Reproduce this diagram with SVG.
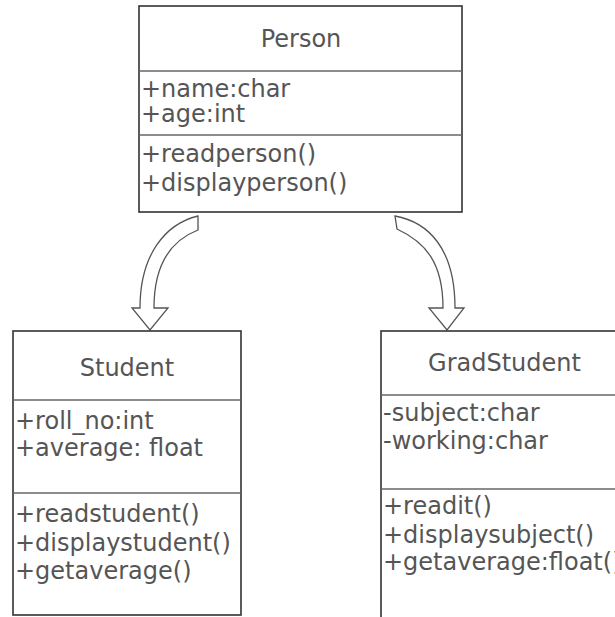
<svg xmlns="http://www.w3.org/2000/svg" width="615" height="617" viewBox="0 0 615 617">
<style>
.box{fill:#fff;stroke:#333;stroke-width:1.6}
.sep{stroke:#666;stroke-width:1.4}
.t{font-family:"DejaVu Sans",Verdana,sans-serif;font-size:24px;fill:#555}
.c{text-anchor:middle}
.arr{fill:#fff;stroke:#555;stroke-width:1.3;stroke-linejoin:miter}
</style>
<rect width="615" height="617" fill="#fff"/>
<g id="connectors">
<path class="arr" d="M198,216 C165,224 140,255 140,308 L132,308 L150,330 L168,308 L154,308 C154,262 172,240 198,230 Z"/>
<path class="arr" d="M395,216 C428,222 455,248 455,308 L464,308 L447,330 L429,308 L443,308 C443,262 425,242 397,229 Z"/>
</g>
<g id="person">
<rect class="box" x="139" y="6" width="323" height="206"/>
<line class="sep" x1="139" y1="71" x2="462" y2="71"/>
<line class="sep" x1="139" y1="135" x2="462" y2="135"/>
<text class="t c" x="301" y="47">Person</text>
<text class="t" x="141" y="97">+name:char</text>
<text class="t" x="141" y="122">+age:int</text>
<text class="t" x="141" y="162">+readperson()</text>
<text class="t" x="141" y="191">+displayperson()</text>
</g>
<g id="student">
<rect class="box" x="13" y="331" width="228" height="284"/>
<line class="sep" x1="13" y1="400" x2="241" y2="400"/>
<line class="sep" x1="13" y1="493" x2="241" y2="493"/>
<text class="t c" x="127" y="376">Student</text>
<text class="t" x="15" y="429">+roll_no:int</text>
<text class="t" x="15" y="456">+average: float</text>
<text class="t" x="15" y="522">+readstudent()</text>
<text class="t" x="15" y="551">+displaystudent()</text>
<text class="t" x="15" y="579">+getaverage()</text>
</g>
<g id="gradstudent">
<rect class="box" x="381" y="331" width="247" height="300"/>
<line class="sep" x1="381" y1="395" x2="628" y2="395"/>
<line class="sep" x1="381" y1="489" x2="628" y2="489"/>
<text class="t c" x="504.5" y="371">GradStudent</text>
<text class="t" x="383" y="421">-subject:char</text>
<text class="t" x="383" y="449">-working:char</text>
<text class="t" x="383" y="514">+readit()</text>
<text class="t" x="383" y="543">+displaysubject()</text>
<text class="t" x="383" y="570">+getaverage:float()</text>
</g>
</svg>
